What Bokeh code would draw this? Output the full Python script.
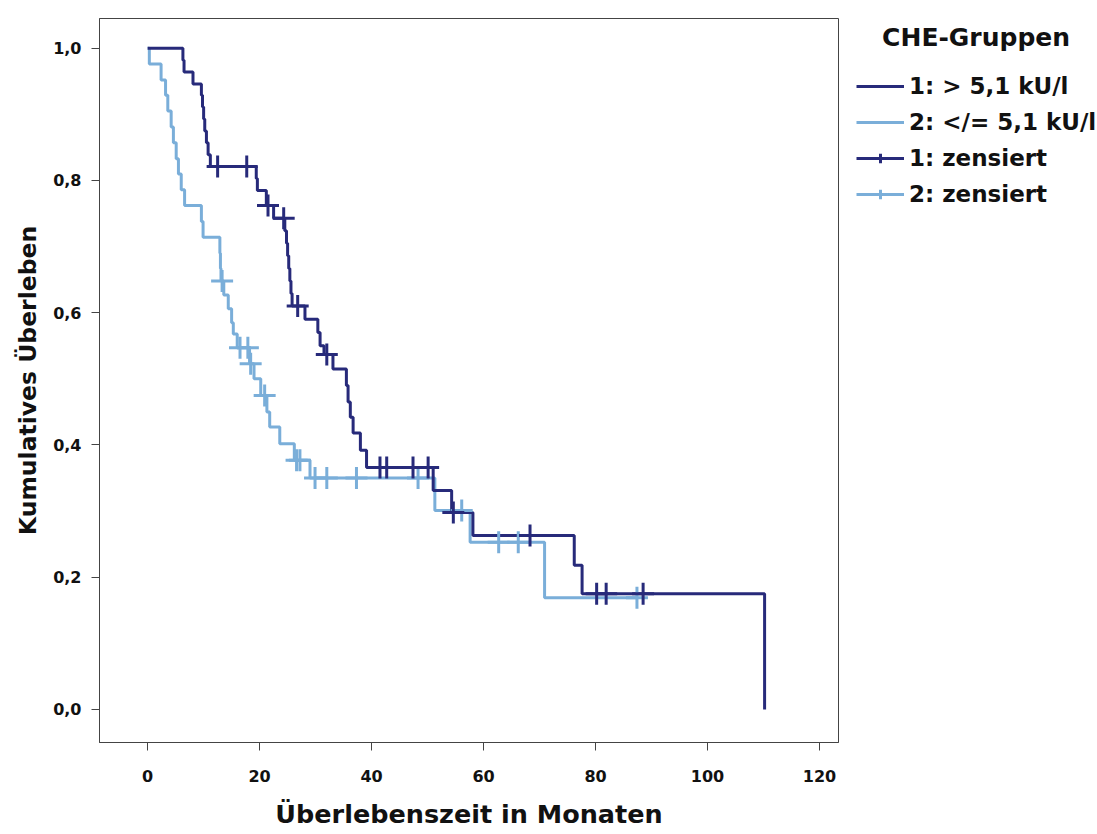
from bokeh.plotting import figure
from bokeh.layouts import row
from bokeh.models import Range1d, FixedTicker, CustomJSTickFormatter, Legend, LegendItem
from bokeh.embed import file_html
from bokeh.resources import INLINE

# ---- data ----
g1_event_t = [6.3, 6.5, 8.1, 9.6, 9.8, 10.0, 10.2, 10.5, 10.8, 11.2, 19.4, 19.6, 21.2, 22.5,
              24.5, 24.8, 25.0, 25.2, 25.4, 25.6, 25.8, 28.1, 30.4, 30.8, 31.5, 33.1,
              35.5, 35.8, 36.2, 36.7, 38.0, 39.1, 51.0, 54.3, 58.1, 76.2, 77.6, 110.2]
g1_event_s = [0.982, 0.964, 0.946, 0.929, 0.911, 0.893, 0.875, 0.857, 0.839, 0.821, 0.803, 0.785,
              0.762, 0.743, 0.724, 0.705, 0.686, 0.667, 0.648, 0.629, 0.610, 0.590, 0.570, 0.550,
              0.537, 0.515, 0.490, 0.465, 0.442, 0.418, 0.392, 0.366, 0.331, 0.298, 0.263,
              0.218, 0.175, 0.0]
g1_cens_t = [12.5, 17.7, 21.5, 24.3, 26.8, 32.0, 41.5, 42.7, 47.4, 50.1, 54.6, 68.3, 80.2, 81.9, 88.5]

g2_event_t = [0.3, 2.4, 3.2, 3.6, 4.2, 4.6, 5.1, 5.5, 6.0, 6.6, 9.6, 9.9, 12.9, 13.0, 13.1,
              13.6, 14.4, 15.0, 15.3, 16.0, 18.2, 19.0, 20.2, 21.3, 21.8, 23.6, 26.2, 29.0,
              51.3, 57.6, 70.9]
g2_event_s = [0.976, 0.952, 0.929, 0.905, 0.881, 0.857, 0.833, 0.810, 0.786, 0.762, 0.738, 0.714,
              0.690, 0.667, 0.648, 0.627, 0.606, 0.585, 0.568, 0.547, 0.523, 0.500, 0.475,
              0.450, 0.427, 0.402, 0.377, 0.350, 0.301, 0.253, 0.169]
g2_cens_t = [13.3, 16.5, 17.9, 18.4, 20.9, 26.6, 27.2, 29.9, 32.0, 37.3, 48.3, 56.1, 62.7, 66.2, 87.4]
g2_end_t = 87.4

x_ticks = [0, 20, 40, 60, 80, 100, 120]
y_ticks = [0.0, 0.2, 0.4, 0.6, 0.8, 1.0]

labels = ["1: > 5,1 kU/l", "2: </= 5,1 kU/l", "1: zensiert", "2: zensiert"]
legend_title = "CHE-Gruppen"
x_title = "Überlebenszeit in Monaten"
y_title = "Kumulatives Überleben"

DARK = "#272a7a"
LIGHT = "#7aaed9"
FONT = "DejaVu Sans"


def level_at(times, surv, t):
    s = 1.0
    for ti, si in zip(times, surv):
        if ti <= t:
            s = si
    return s


g1_x = [0.0] + g1_event_t
g1_y = [1.0] + g1_event_s
g2_x = [0.0] + g2_event_t + [g2_end_t]
g2_y = [1.0] + g2_event_s + [g2_event_s[-1]]

g1_cy = [level_at(g1_event_t, g1_event_s, t) for t in g1_cens_t]
g2_cy = [level_at(g2_event_t, g2_event_s, t) for t in g2_cens_t]

# ---------------- main plot ----------------
p = figure(width=851, height=834, output_backend="svg", toolbar_location=None,
           x_range=Range1d(-8.6, 123.4), y_range=Range1d(-0.05, 1.045),
           min_border_left=99, min_border_right=13, min_border_top=18, min_border_bottom=92)

s2 = p.step(g2_x, g2_y, mode="after", line_color=LIGHT, line_width=3)
s1 = p.step(g1_x, g1_y, mode="after", line_color=DARK, line_width=3)
c2 = p.scatter(g2_cens_t, g2_cy, marker="cross", size=22, line_color=LIGHT, line_width=3)
c1 = p.scatter(g1_cens_t, g1_cy, marker="cross", size=22, line_color=DARK, line_width=3)

p.xgrid.visible = False
p.ygrid.visible = False
p.background_fill_color = "white"
p.border_fill_color = "white"
p.outline_line_color = "#444444"
p.outline_line_width = 1

fmt = CustomJSTickFormatter(code="return tick.toFixed(1).replace('.', ',');")
p.yaxis.ticker = FixedTicker(ticks=y_ticks)
p.yaxis.formatter = fmt
p.xaxis.ticker = FixedTicker(ticks=x_ticks)

for ax in (p.xaxis[0], p.yaxis[0]):
    ax.axis_line_color = "#444444"
    ax.major_tick_line_color = "#444444"
    ax.major_tick_out = 8
    ax.major_tick_in = 0
    ax.minor_tick_line_color = None
    ax.major_label_text_font = FONT
    ax.major_label_text_font_style = "bold"
    ax.major_label_text_font_size = "16px"
    ax.major_label_text_color = "#111111"
    ax.axis_label_text_font = FONT
    ax.axis_label_text_font_style = "bold"
    ax.axis_label_text_color = "#111111"

p.xaxis.axis_label = x_title
p.yaxis.axis_label = y_title
p.xaxis.axis_label_text_font_size = "25.5px"
p.yaxis.axis_label_text_font_size = "23.5px"
p.xaxis.major_label_standoff = 19
p.xaxis.axis_label_standoff = 14
p.yaxis.major_label_standoff = 10
p.yaxis.axis_label_standoff = 8

# ---------------- legend panel ----------------
q = figure(width=246, height=834, output_backend="svg", toolbar_location=None,
           x_range=Range1d(0, 246), y_range=Range1d(0, 834),
           x_axis_location=None, y_axis_location=None,
           min_border_left=0, min_border_right=0, min_border_top=18, min_border_bottom=0)
q.grid.visible = False
q.outline_line_color = None
q.background_fill_color = "white"
q.border_fill_color = "white"

# legend-only copies of the series (hidden in this panel; only their icons show)
k1 = q.step(g1_x, g1_y, mode="after", line_color=DARK, line_width=3, visible=False)
k2 = q.step(g2_x, g2_y, mode="after", line_color=LIGHT, line_width=3, visible=False)
k3 = q.scatter(g1_cens_t, g1_cy, marker="cross", size=22, line_color=DARK, line_width=3, visible=False)
k4 = q.scatter(g2_cens_t, g2_cy, marker="cross", size=22, line_color=LIGHT, line_width=3, visible=False)

legend = Legend(items=[
    LegendItem(label=labels[0], renderers=[k1]),
    LegendItem(label=labels[1], renderers=[k2]),
    LegendItem(label=labels[2], renderers=[k1, k3]),
    LegendItem(label=labels[3], renderers=[k2, k4]),
], location="top_left")
legend.title = "\u00a0\u00a0\u00a0" + legend_title
legend.title_text_font = FONT
legend.title_text_font_style = "bold"
legend.title_text_font_size = "25px"
legend.title_text_color = "#111111"
legend.title_standoff = 21
legend.label_text_font = FONT
legend.label_text_font_style = "bold"
legend.label_text_font_size = "23px"
legend.label_text_color = "#111111"
legend.glyph_width = 48
legend.glyph_height = 24
legend.label_height = 24
legend.spacing = 10
legend.label_standoff = 5
legend.padding = 2
legend.margin = 5
legend.border_line_color = None
legend.background_fill_alpha = 0
q.add_layout(legend, "center")

layout = row(p, q, spacing=0)
open("out.html", "w").write(file_html(layout, INLINE))
